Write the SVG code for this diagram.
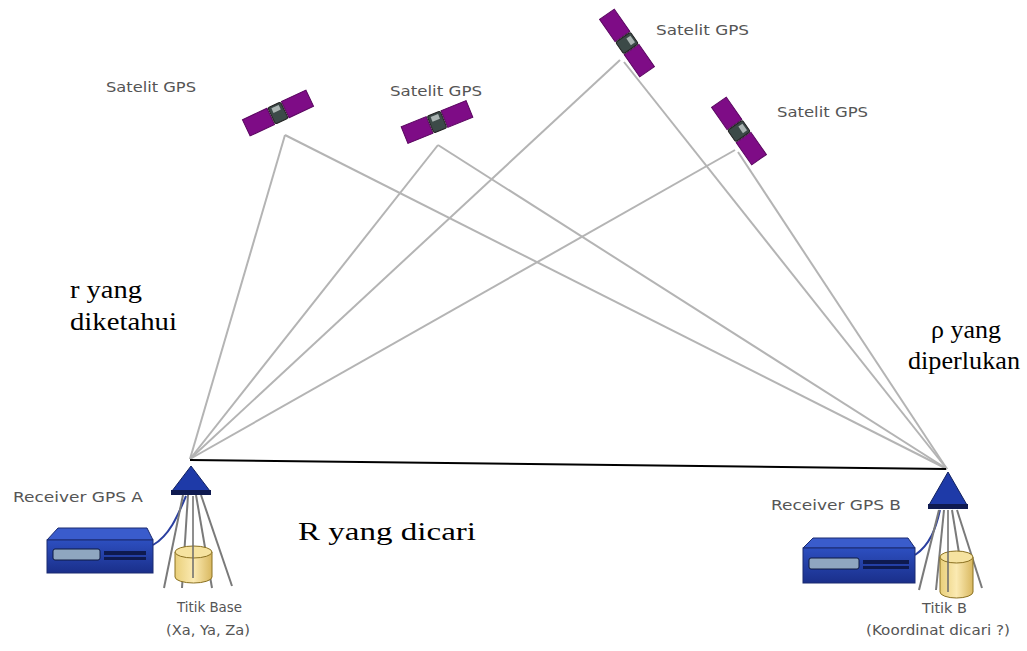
<svg xmlns="http://www.w3.org/2000/svg" width="1027" height="651" viewBox="0 0 1027 651">
  <style>
    .ray { stroke: #b4b4b4; stroke-width: 2; fill: none; }
    .base { stroke: #000; stroke-width: 2; fill: none; }
    .lbl { font-family: "DejaVu Sans", "Open Sans", sans-serif; font-size: 14px; fill: #555; }
    .math { font-family: "Liberation Serif", serif; font-size: 26px; fill: #000; }
    .panel { fill: #7e0c86; stroke: #5a0660; stroke-width: 1; }
    .body { fill: #3c4a48; stroke: #202020; stroke-width: 1; }
    .leg { stroke: #7a7a7a; stroke-width: 2; fill: none; }
    .cable { stroke: #2a3fa0; stroke-width: 2; fill: none; }
  </style>
  <defs>
    <g id="sat">
      <rect class="panel" x="-35" y="-9" width="27" height="18"/>
      <rect class="panel" x="8" y="-9" width="27" height="18"/>
      <rect class="body" x="-7" y="-9" width="14" height="18" rx="2"/>
      <rect x="-4" y="-7" width="8" height="5" fill="#aab4b2"/>
    </g>
    <linearGradient id="can" x1="0" x2="1" y1="0" y2="0">
      <stop offset="0" stop-color="#e9cf7a"/>
      <stop offset="0.5" stop-color="#fbeab2"/>
      <stop offset="1" stop-color="#d9b860"/>
    </linearGradient>
    <linearGradient id="box" x1="0" x2="0" y1="0" y2="1">
      <stop offset="0" stop-color="#2d4fc0"/>
      <stop offset="1" stop-color="#1a2f8a"/>
    </linearGradient>
  </defs>

  <!-- signal paths between satellites and receivers, plus the baseline -->
  <g id="connectors">
    <line class="ray" x1="285" y1="135" x2="190" y2="459"/>
    <line class="ray" x1="285" y1="135" x2="947" y2="469"/>
    <line class="ray" x1="438" y1="145" x2="190" y2="459"/>
    <line class="ray" x1="438" y1="145" x2="947" y2="469"/>
    <line class="ray" x1="620" y1="60" x2="190" y2="459"/>
    <line class="ray" x1="624" y1="62" x2="947" y2="469"/>
    <line class="ray" x1="735" y1="150" x2="190" y2="459"/>
    <line class="ray" x1="738" y1="152" x2="947" y2="469"/>
    <line class="base" x1="190" y1="460" x2="946" y2="469"/>
  </g>

  <!-- satellites -->
  <g id="sat1"><use href="#sat" transform="translate(278,113) rotate(-25)"/>
    <text class="lbl" x="106" y="92" textLength="90" lengthAdjust="spacingAndGlyphs">Satelit GPS</text></g>
  <g id="sat2"><use href="#sat" transform="translate(437,122) rotate(-22)"/>
    <text class="lbl" x="390" y="96" textLength="92" lengthAdjust="spacingAndGlyphs">Satelit GPS</text></g>
  <g id="sat3"><use href="#sat" transform="translate(627,43) rotate(55)"/>
    <text class="lbl" x="656" y="35" textLength="93" lengthAdjust="spacingAndGlyphs">Satelit GPS</text></g>
  <g id="sat4"><use href="#sat" transform="translate(739,131) rotate(55)"/>
    <text class="lbl" x="777" y="117" textLength="91" lengthAdjust="spacingAndGlyphs">Satelit GPS</text></g>

  <!-- receiver A on its tripod -->
  <g id="receiverA">
    <path class="cable" d="M153,545 C170,535 178,515 186,496"/>
    <line class="leg" x1="183" y1="495" x2="164" y2="588"/>
    <line class="leg" x1="188" y1="495" x2="182" y2="588"/>
    <line class="leg" x1="196" y1="495" x2="212" y2="588"/>
    <line class="leg" x1="201" y1="495" x2="232" y2="586"/>
    <path d="M175,552 L175,577 A18.5,6 0 0 0 212,577 L212,552 Z" fill="url(#can)" stroke="#8a7020" stroke-width="1"/>
    <ellipse cx="193.5" cy="552" rx="18.5" ry="6" fill="#f6e3a0" stroke="#8a7020" stroke-width="1"/>
    <line x1="193" y1="496" x2="193" y2="578" stroke="#6a6a6a" stroke-width="1.5"/>
    <polygon points="191,466 172,491 210,491" fill="#1e3aa8" stroke="#10205e" stroke-width="1"/>
    <rect x="171" y="490" width="40" height="5" fill="#0f1a50"/>
    <polygon points="58,528 147,528 153,540 47,540" fill="#3a5ccc" stroke="#1a2a70" stroke-width="1"/>
    <rect x="47" y="540" width="106" height="33" fill="url(#box)" stroke="#1a2a70" stroke-width="1"/>
    <rect x="53" y="549" width="47" height="11" rx="2" fill="#8fa6c0" stroke="#0e1a40" stroke-width="1"/>
    <rect x="104" y="551" width="42" height="4" fill="#0e1a50"/>
    <rect x="104" y="557" width="42" height="3" fill="#0e1a50"/>
    <text class="lbl" x="13" y="502" textLength="130" lengthAdjust="spacingAndGlyphs">Receiver GPS A</text>
    <text class="lbl" x="177" y="612" textLength="65" lengthAdjust="spacingAndGlyphs">Titik Base</text>
    <text class="lbl" x="166" y="635" textLength="84" lengthAdjust="spacingAndGlyphs">(Xa, Ya, Za)</text>
  </g>

  <!-- receiver B on its tripod -->
  <g id="receiverB">
    <path class="cable" d="M915,555 C930,545 936,528 940,510"/>
    <line class="leg" x1="939" y1="510" x2="919" y2="590"/>
    <line class="leg" x1="944" y1="510" x2="936" y2="590"/>
    <line class="leg" x1="952" y1="510" x2="965" y2="590"/>
    <line class="leg" x1="957" y1="510" x2="982" y2="588"/>
    <path d="M940,557 L940,592 A16.5,6 0 0 0 973,592 L973,557 Z" fill="url(#can)" stroke="#8a7020" stroke-width="1"/>
    <ellipse cx="956.5" cy="557" rx="16.5" ry="6" fill="#f6e3a0" stroke="#8a7020" stroke-width="1"/>
    <line x1="948" y1="510" x2="948" y2="592" stroke="#6a6a6a" stroke-width="1.5"/>
    <polygon points="948,472 929,505 967,505" fill="#1e3aa8" stroke="#10205e" stroke-width="1"/>
    <rect x="928" y="504" width="40" height="5" fill="#0f1a50"/>
    <polygon points="813,538 908,538 915,548 803,548" fill="#3a5ccc" stroke="#1a2a70" stroke-width="1"/>
    <rect x="803" y="548" width="112" height="35" fill="url(#box)" stroke="#1a2a70" stroke-width="1"/>
    <rect x="809" y="558" width="50" height="11" rx="2" fill="#8fa6c0" stroke="#0e1a40" stroke-width="1"/>
    <rect x="863" y="560" width="46" height="4" fill="#0e1a50"/>
    <rect x="863" y="566" width="46" height="3" fill="#0e1a50"/>
    <text class="lbl" x="771" y="510" textLength="130" lengthAdjust="spacingAndGlyphs">Receiver GPS B</text>
    <text class="lbl" x="922" y="613" textLength="45" lengthAdjust="spacingAndGlyphs">Titik B</text>
    <text class="lbl" x="866" y="635" textLength="144" lengthAdjust="spacingAndGlyphs">(Koordinat dicari ?)</text>
  </g>

  <!-- range labels -->
  <g id="labels">
    <text class="math" x="70" y="298" textLength="72" lengthAdjust="spacingAndGlyphs">r yang</text>
    <text class="math" x="70" y="330" textLength="107" lengthAdjust="spacingAndGlyphs">diketahui</text>
    <text class="math" x="931" y="338" textLength="70" lengthAdjust="spacingAndGlyphs">ρ yang</text>
    <text class="math" x="908" y="369" textLength="112" lengthAdjust="spacingAndGlyphs">diperlukan</text>
    <text class="math" x="298" y="540" textLength="178" lengthAdjust="spacingAndGlyphs">R yang dicari</text>
  </g>
</svg>
